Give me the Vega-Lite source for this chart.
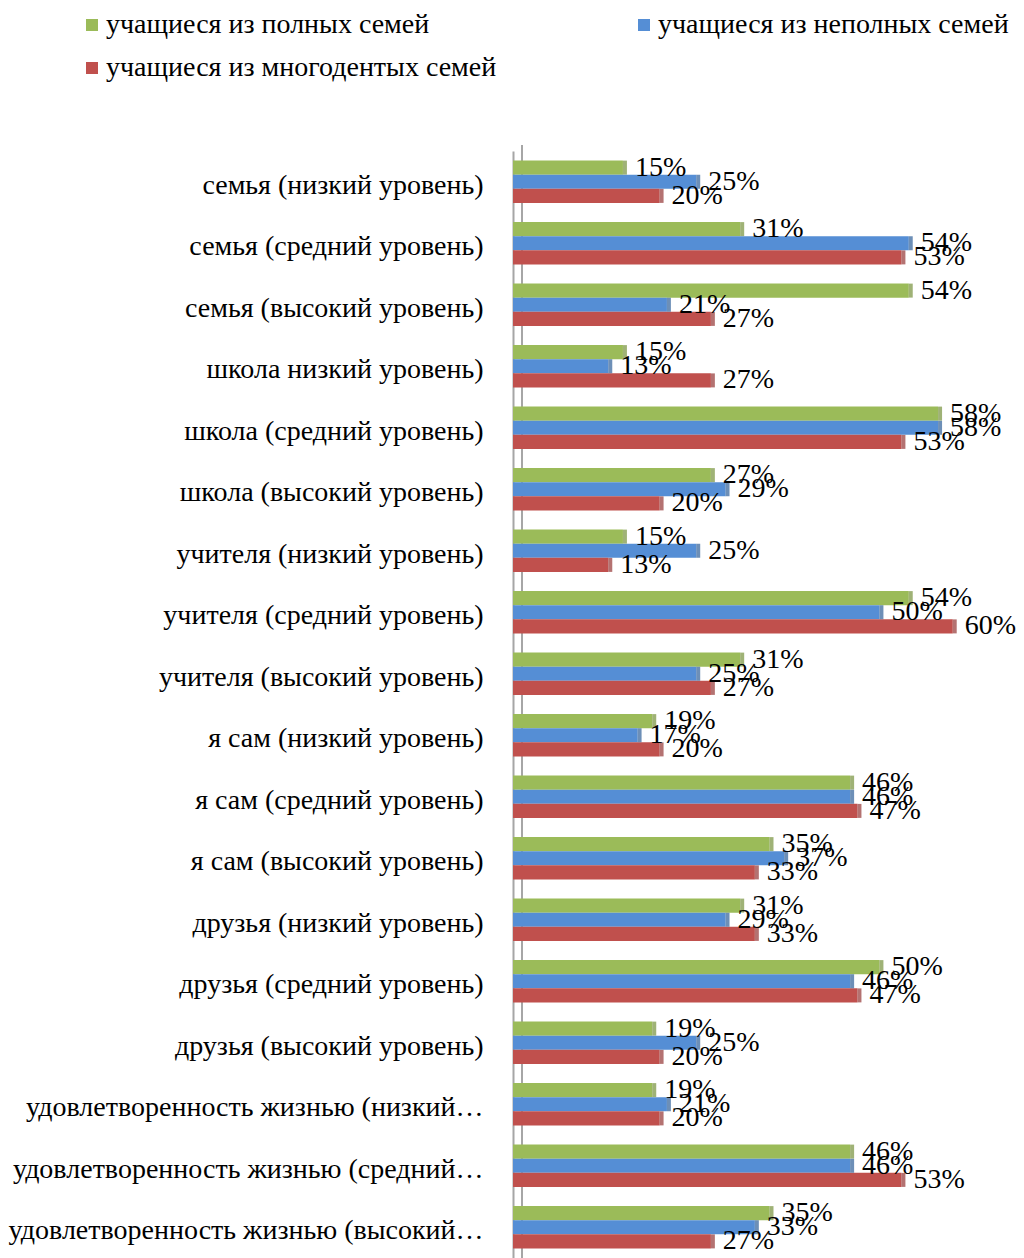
{
  "$schema": "https://vega.github.io/schema/vega-lite/v6.json",
  "width": 513,
  "height": 1107,
  "autosize": {"type": "none"},
  "padding": {"left": 513, "top": 151, "right": 0, "bottom": 0},
  "config": {
    "view": {"stroke": null},
    "font": "Liberation Serif",
    "text": {"font": "Liberation Serif"}
  },
  "data": {
    "values": [
      {"cat": "семья (низкий уровень)", "series": "учащиеся из полных семей", "value": 0.15},
      {"cat": "семья (низкий уровень)", "series": "учащиеся из неполных семей", "value": 0.25},
      {"cat": "семья (низкий уровень)", "series": "учащиеся из многодентых семей", "value": 0.20},
      {"cat": "семья (средний уровень)", "series": "учащиеся из полных семей", "value": 0.31},
      {"cat": "семья (средний уровень)", "series": "учащиеся из неполных семей", "value": 0.54},
      {"cat": "семья (средний уровень)", "series": "учащиеся из многодентых семей", "value": 0.53},
      {"cat": "семья (высокий уровень)", "series": "учащиеся из полных семей", "value": 0.54},
      {"cat": "семья (высокий уровень)", "series": "учащиеся из неполных семей", "value": 0.21},
      {"cat": "семья (высокий уровень)", "series": "учащиеся из многодентых семей", "value": 0.27},
      {"cat": "школа низкий уровень)", "series": "учащиеся из полных семей", "value": 0.15},
      {"cat": "школа низкий уровень)", "series": "учащиеся из неполных семей", "value": 0.13},
      {"cat": "школа низкий уровень)", "series": "учащиеся из многодентых семей", "value": 0.27},
      {"cat": "школа (средний уровень)", "series": "учащиеся из полных семей", "value": 0.58},
      {"cat": "школа (средний уровень)", "series": "учащиеся из неполных семей", "value": 0.58},
      {"cat": "школа (средний уровень)", "series": "учащиеся из многодентых семей", "value": 0.53},
      {"cat": "школа (высокий уровень)", "series": "учащиеся из полных семей", "value": 0.27},
      {"cat": "школа (высокий уровень)", "series": "учащиеся из неполных семей", "value": 0.29},
      {"cat": "школа (высокий уровень)", "series": "учащиеся из многодентых семей", "value": 0.20},
      {"cat": "учителя (низкий уровень)", "series": "учащиеся из полных семей", "value": 0.15},
      {"cat": "учителя (низкий уровень)", "series": "учащиеся из неполных семей", "value": 0.25},
      {"cat": "учителя (низкий уровень)", "series": "учащиеся из многодентых семей", "value": 0.13},
      {"cat": "учителя (средний уровень)", "series": "учащиеся из полных семей", "value": 0.54},
      {"cat": "учителя (средний уровень)", "series": "учащиеся из неполных семей", "value": 0.50},
      {"cat": "учителя (средний уровень)", "series": "учащиеся из многодентых семей", "value": 0.60},
      {"cat": "учителя (высокий уровень)", "series": "учащиеся из полных семей", "value": 0.31},
      {"cat": "учителя (высокий уровень)", "series": "учащиеся из неполных семей", "value": 0.25},
      {"cat": "учителя (высокий уровень)", "series": "учащиеся из многодентых семей", "value": 0.27},
      {"cat": "я сам (низкий уровень)", "series": "учащиеся из полных семей", "value": 0.19},
      {"cat": "я сам (низкий уровень)", "series": "учащиеся из неполных семей", "value": 0.17},
      {"cat": "я сам (низкий уровень)", "series": "учащиеся из многодентых семей", "value": 0.20},
      {"cat": "я сам (средний уровень)", "series": "учащиеся из полных семей", "value": 0.46},
      {"cat": "я сам (средний уровень)", "series": "учащиеся из неполных семей", "value": 0.46},
      {"cat": "я сам (средний уровень)", "series": "учащиеся из многодентых семей", "value": 0.47},
      {"cat": "я сам (высокий уровень)", "series": "учащиеся из полных семей", "value": 0.35},
      {"cat": "я сам (высокий уровень)", "series": "учащиеся из неполных семей", "value": 0.37},
      {"cat": "я сам (высокий уровень)", "series": "учащиеся из многодентых семей", "value": 0.33},
      {"cat": "друзья (низкий уровень)", "series": "учащиеся из полных семей", "value": 0.31},
      {"cat": "друзья (низкий уровень)", "series": "учащиеся из неполных семей", "value": 0.29},
      {"cat": "друзья (низкий уровень)", "series": "учащиеся из многодентых семей", "value": 0.33},
      {"cat": "друзья (средний уровень)", "series": "учащиеся из полных семей", "value": 0.50},
      {"cat": "друзья (средний уровень)", "series": "учащиеся из неполных семей", "value": 0.46},
      {"cat": "друзья (средний уровень)", "series": "учащиеся из многодентых семей", "value": 0.47},
      {"cat": "друзья (высокий уровень)", "series": "учащиеся из полных семей", "value": 0.19},
      {"cat": "друзья (высокий уровень)", "series": "учащиеся из неполных семей", "value": 0.25},
      {"cat": "друзья (высокий уровень)", "series": "учащиеся из многодентых семей", "value": 0.20},
      {"cat": "удовлетворенность жизнью (низкий…", "series": "учащиеся из полных семей", "value": 0.19},
      {"cat": "удовлетворенность жизнью (низкий…", "series": "учащиеся из неполных семей", "value": 0.21},
      {"cat": "удовлетворенность жизнью (низкий…", "series": "учащиеся из многодентых семей", "value": 0.20},
      {"cat": "удовлетворенность жизнью (средний…", "series": "учащиеся из полных семей", "value": 0.46},
      {"cat": "удовлетворенность жизнью (средний…", "series": "учащиеся из неполных семей", "value": 0.46},
      {"cat": "удовлетворенность жизнью (средний…", "series": "учащиеся из многодентых семей", "value": 0.53},
      {"cat": "удовлетворенность жизнью (высокий…", "series": "учащиеся из полных семей", "value": 0.35},
      {"cat": "удовлетворенность жизнью (высокий…", "series": "учащиеся из неполных семей", "value": 0.33},
      {"cat": "удовлетворенность жизнью (высокий…", "series": "учащиеся из многодентых семей", "value": 0.27}
    ]
  },
  "encoding": {
    "y": {
      "field": "cat",
      "type": "nominal",
      "sort": null,
      "title": null,
      "scale": {"paddingInner": 0.31, "paddingOuter": 0.155},
      "axis": {
        "domain": true,
        "domainColor": "#A6A6A6",
        "domainWidth": 2,
        "ticks": false,
        "labelFont": "Liberation Serif",
        "labelFontSize": 28,
        "labelColor": "#000000",
        "labelPadding": 30,
        "labelLimit": 600,
        "labelOffset": 4
      }
    },
    "yOffset": {
      "field": "series",
      "type": "nominal",
      "sort": ["учащиеся из полных семей", "учащиеся из неполных семей", "учащиеся из многодентых семей"],
      "scale": {"paddingInner": 0, "paddingOuter": 0}
    },
    "x": {
      "field": "value",
      "type": "quantitative",
      "scale": {"domain": [0, 0.7]},
      "axis": null
    }
  },
  "layer": [
    {
      "mark": {"type": "rule", "color": "#A6A6A6", "strokeWidth": 2, "xOffset": 9},
      "encoding": {
        "x": {"datum": 0, "type": "quantitative"},
        "y": {"value": -6},
        "y2": {"value": 1107},
        "yOffset": {"value": 0}
      }
    },
    {
      "mark": {"type": "bar"},
      "encoding": {
        "color": {
          "field": "series",
          "type": "nominal",
          "scale": {
            "domain": ["учащиеся из полных семей", "учащиеся из неполных семей", "учащиеся из многодентых семей"],
            "range": ["#9BBB59", "#558ED5", "#C0504D"]
          },
          "legend": {
            "orient": "none",
            "legendX": -435,
            "legendY": -140,
            "direction": "horizontal",
            "columns": 2,
            "columnPadding": 133,
            "rowPadding": 15,
            "title": null,
            "symbolType": "square",
            "symbolSize": 144,
            "symbolStrokeWidth": 0,
            "labelFont": "Liberation Serif",
            "labelFontSize": 28,
            "labelColor": "#000000",
            "labelLimit": 700,
            "labelOffset": 0
          }
        }
      }
    },
    {
      "mark": {"type": "tick", "orient": "vertical", "thickness": 4, "size": 14, "xOffset": 2},
      "encoding": {
        "color": {
          "condition": [
            {"test": "datum.series === 'учащиеся из полных семей'", "value": "#76923C"},
            {"test": "datum.series === 'учащиеся из неполных семей'", "value": "#2F5F98"}
          ],
          "value": "#943634"
        }
      }
    },
    {
      "mark": {"type": "text", "align": "left", "baseline": "middle", "dx": 12, "font": "Liberation Serif", "fontSize": 28, "color": "#000000"},
      "encoding": {
        "text": {"field": "value", "type": "quantitative", "format": ".0%"}
      }
    }
  ]
}
